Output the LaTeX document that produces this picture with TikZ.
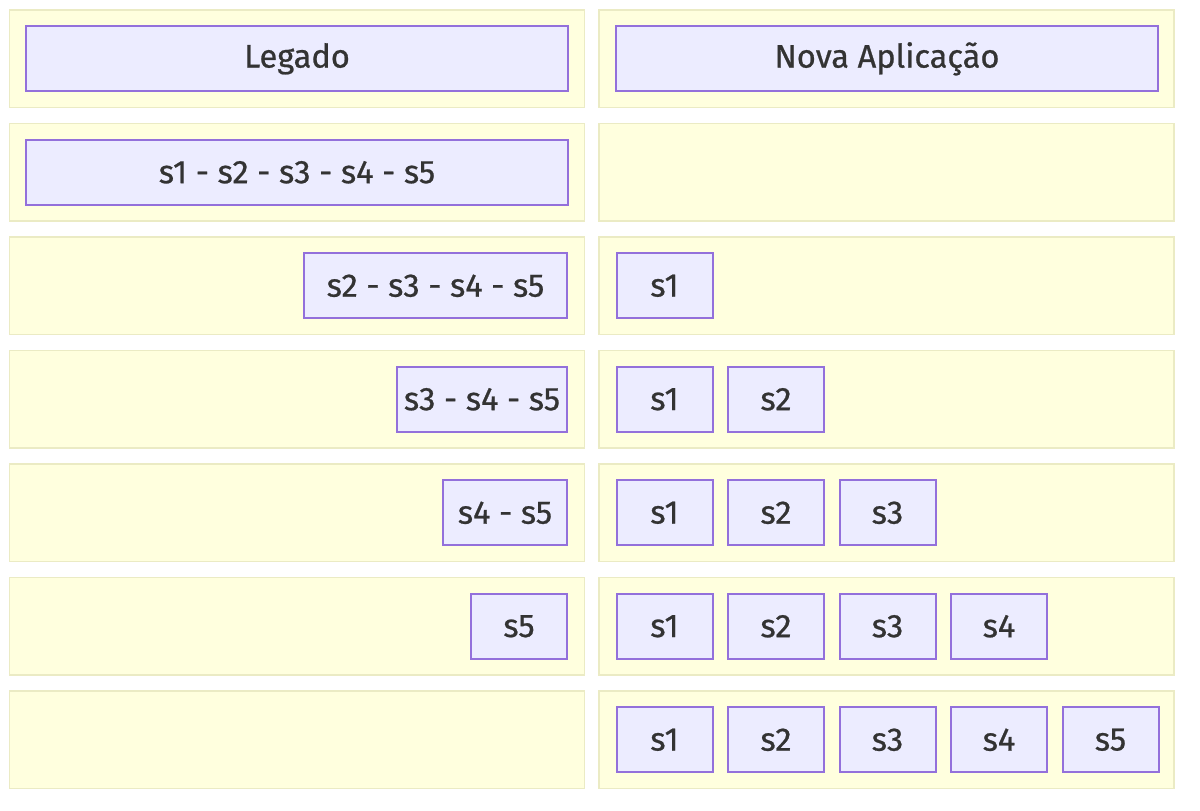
\documentclass[tikz,border=0pt]{standalone}
\usepackage{fontspec}
\setmainfont{Fira Sans}[FakeBold=0.7]
\usetikzlibrary{positioning}
\definecolor{clfill}{HTML}{FFFFDE}
\definecolor{cldraw}{HTML}{EBEBC4}
\definecolor{svfill}{HTML}{ECECFF}
\definecolor{svdraw}{HTML}{9370DB}
\definecolor{svtext}{HTML}{333333}
\begin{document}
\begin{tikzpicture}[x=0.5pt, y=-0.5pt,
  cluster/.style={draw=cldraw, fill=clfill, line width=0.75pt, minimum width=287.5pt, minimum height=48.8pt, inner sep=0pt},
  svc/.style={draw=svdraw, fill=svfill, line width=1pt, text=svtext, minimum width=48pt, minimum height=32.5pt, inner sep=0pt, font=\fontsize{16.3}{19}\selectfont}]
						\useasboundingbox (0,0) rectangle (1200,810);
						% rows of the two columns
						\foreach \r in {1,...,7} {
							\node[cluster] (L\r) at (297, {58.8+113.5*(\r-1)}) {};
							\node[cluster] (R\r) at (886.5, {58.8+113.5*(\r-1)}) {};
						}
						\node[svc, minimum width=271pt] (legado) at (L1) {Legado};
						\node[svc, minimum width=271pt] (nova) at (887, 58.8) {Nova Aplicação};
						\node[svc, minimum width=271pt] (L2s) at (L2) {s1 - s2 - s3 - s4 - s5};
						\node[svc, anchor=east, minimum width=131.5pt] (L3s) at (568, 285.8) {s2 - s3 - s4 - s5};
						\node[svc, anchor=east, minimum width=85pt] (L4s) at (568, 399.3) {s3 - s4 - s5};
						\node[svc, anchor=east, minimum width=62pt] (L5s) at (568, 512.8) {s4 - s5};
						\node[svc, anchor=east] (L6s) at (568, 626.3) {s5};
						% new application grows
						\foreach \r [evaluate=\r as \n using int(\r-2)] in {3,...,7}
							\foreach \i in {1,...,\n}
								\node[svc, anchor=west] (R\r-\i) at ({615.5+111.5*(\i-1)}, {58.8+113.5*(\r-1)}) {s\i};
					\end{tikzpicture}
\end{document}
